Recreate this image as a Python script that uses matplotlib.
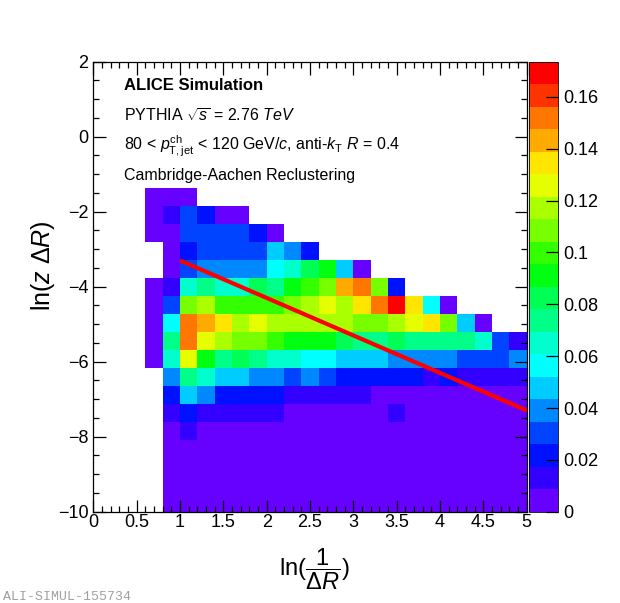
import numpy as np
import matplotlib
matplotlib.use('Agg')
import matplotlib.pyplot as plt
from matplotlib.colors import ListedColormap, BoundaryNorm
from matplotlib.ticker import MultipleLocator, FuncFormatter

plt.rcParams['font.family'] = ['Liberation Sans', 'DejaVu Sans']
plt.rcParams['mathtext.fontset'] = 'custom'
plt.rcParams['mathtext.rm'] = 'Liberation Sans'
plt.rcParams['mathtext.it'] = 'Liberation Sans:italic'
plt.rcParams['mathtext.bf'] = 'Liberation Sans:bold'

# 直方图分箱: ln(1/dR) 和 ln(z dR)
x_edges = np.linspace(0, 5, 26)
y_edges = np.linspace(-10, 2, 26)
first_col = 3   # 第一列非空的 x 分箱

# 每一行从 x 分箱 3 开始 (0.6 - 0.8)，从下往上
rows = [
    [0, .004, .004, .004, .004, .004, .004, .004, .004, .004, .004, .004, .004, .004, .004, .004, .004, .004, .004, .004, .004, .004],
    [0, .004, .004, .004, .004, .004, .004, .004, .004, .004, .004, .004, .004, .004, .004, .004, .004, .004, .004, .004, .004, .004],
    [0, .004, .004, .004, .004, .004, .004, .004, .004, .004, .004, .004, .004, .004, .004, .004, .004, .004, .004, .004, .004, .004],
    [0, .004, .004, .004, .004, .004, .004, .004, .004, .004, .004, .004, .004, .004, .004, .004, .004, .004, .004, .004, .004, .004],
    [0, .004, .013, .004, .004, .004, .004, .004, .004, .004, .004, .004, .004, .004, .004, .004, .004, .004, .004, .004, .004, .004],
    [0, .013, .022, .013, .013, .013, .013, .013, .004, .004, .004, .004, .004, .004, .013, .004, .004, .004, .004, .004, .004, .004],
    [0, .022, .048, .039, .022, .022, .022, .022, .013, .013, .013, .013, .013, .004, .004, .004, .004, .004, .004, .004, .004, .004],
    [0, .039, .074, .065, .048, .048, .039, .039, .030, .039, .030, .022, .022, .022, .022, .022, .013, .022, .013, .013, .013, .013],
    [.004, .065, .126, .091, .074, .082, .074, .065, .065, .056, .056, .048, .048, .048, .039, .039, .039, .039, .030, .030, .030, .039],
    [.004, .074, .152, .126, .117, .108, .108, .100, .091, .091, .091, .082, .074, .074, .082, .074, .074, .074, .074, .065, .030, .013],
    [.004, .056, .152, .143, .135, .117, .126, .117, .117, .117, .117, .117, .108, .108, .117, .126, .135, .108, .048, .004, 0, 0],
    [.004, .030, .108, .117, .100, .100, .100, .100, .108, .117, .126, .117, .135, .152, .170, .135, .056, .004, 0, 0, 0, 0],
    [.004, .013, .065, .074, .065, .065, .082, .074, .091, .100, .108, .143, .152, .108, .022, 0, 0, 0, 0, 0, 0, 0],
    [0, .004, .030, .039, .039, .039, .039, .056, .065, .082, .091, .048, .004, 0, 0, 0, 0, 0, 0, 0, 0, 0],
    [0, .004, .022, .030, .030, .030, .030, .048, .039, .022, 0, 0, 0, 0, 0, 0, 0, 0, 0, 0, 0, 0],
    [.004, .004, .030, .030, .030, .030, .022, .004, 0, 0, 0, 0, 0, 0, 0, 0, 0, 0, 0, 0, 0, 0],
    [.004, .013, .030, .022, .004, .004, 0, 0, 0, 0, 0, 0, 0, 0, 0, 0, 0, 0, 0, 0, 0, 0],
    [.004, .004, .004, 0, 0, 0, 0, 0, 0, 0, 0, 0, 0, 0, 0, 0, 0, 0, 0, 0, 0, 0],
]

# soft drop 线 z = 0.1
line_x = [1.0, 5.0]
line_y = [-3.3, -7.3]

z_max = 0.1736
colors = ['#6600ff', '#3300ff', '#0011ff', '#0044ff', '#0088ff', '#00ccff', '#00ffff',
          '#00ffcc', '#00ff88', '#00ff55', '#00ff11', '#33ff00', '#77ff00', '#aaff00',
          '#e6ff00', '#ffe600', '#ffaa00', '#ff7700', '#ff3300', '#ff0000']
cmap = ListedColormap(colors)
cmap.set_bad((1, 1, 1, 0))
norm = BoundaryNorm(np.linspace(0, z_max, len(colors) + 1), len(colors))

z = np.zeros((len(y_edges) - 1, len(x_edges) - 1))
for j, row in enumerate(rows):
    z[j, first_col:first_col + len(row)] = row
z = np.ma.masked_equal(z, 0)


# 负号用长减号
def fmt(v, pos):
    return ('%g' % v).replace('-', '\u2212')


fig = plt.figure(figsize=(6.2, 6.03), dpi=100)
ax = fig.add_axes([93.3 / 620, 1 - 511.7 / 603, 433.5 / 620, 450 / 603])
mesh = ax.pcolormesh(x_edges, y_edges, z, cmap=cmap, norm=norm, edgecolors='face',
                     linewidth=0, antialiased=False)
ax.plot(line_x, line_y, color='#ff0000', lw=3, solid_capstyle='butt')

ax.set_xlim(0, 5)
ax.set_ylim(-10, 2)
ax.xaxis.set_major_locator(MultipleLocator(0.5))
ax.xaxis.set_minor_locator(MultipleLocator(0.1))
ax.yaxis.set_major_locator(MultipleLocator(2))
ax.yaxis.set_minor_locator(MultipleLocator(0.5))
ax.xaxis.set_major_formatter(FuncFormatter(fmt))
ax.yaxis.set_major_formatter(FuncFormatter(fmt))
ax.tick_params(which='both', direction='in', top=True, right=True, labelsize=13, width=0.9)
ax.tick_params(which='major', length=9)
ax.tick_params(which='minor', length=4.5)
ax.tick_params(axis='x', pad=2)
for s in ax.spines.values():
    s.set_linewidth(0.9)

ax.set_ylabel(r'$\ln(z\ \Delta R)$', fontsize=18)
ax.yaxis.set_label_coords(-0.084, 0.548)
ax.set_xlabel(r'$\ln(\dfrac{1}{\Delta R})$', fontsize=17)
ax.xaxis.set_label_coords(0.509, -0.078)

cax = fig.add_axes([529.3 / 620, 1 - 511.7 / 603, 28.4 / 620, 450 / 603])
cb = fig.colorbar(mesh, cax=cax, ticks=np.arange(0, 0.17, 0.02))
cb.ax.yaxis.set_major_formatter(FuncFormatter(fmt))
cb.ax.tick_params(direction='in', length=9, width=0.9, labelsize=13, pad=4)
cb.ax.minorticks_off()
cb.outline.set_linewidth(0.6)

fig.text(124 / 620, 1 - 89.7 / 603, 'ALICE Simulation', fontsize=12, fontweight='bold', va='baseline')
fig.text(124 / 620, 1 - 122 / 603, r'PYTHIA $\sqrt{s}$ = 2.76 $\mathit{TeV}$', fontsize=11.5, va='baseline')
fig.text(124 / 620, 1 - 150.7 / 603,
         r'80 < $p_{\mathrm{T,jet}}^{\mathrm{ch}}$ < 120 GeV/$c$, anti-$k_{\mathrm{T}}$ $R$ = 0.4',
         fontsize=11.5, va='baseline')
fig.text(124 / 620, 1 - 179.7 / 603, 'Cambridge-Aachen Reclustering', fontsize=11.5, va='baseline')

fig.text(3 / 620, 1 - 597 / 603, 'ALI-SIMUL-155734', family='Liberation Mono', fontsize=9.5,
         color='#a0a0a0', va='center')

fig.savefig('out.png', dpi=100)
